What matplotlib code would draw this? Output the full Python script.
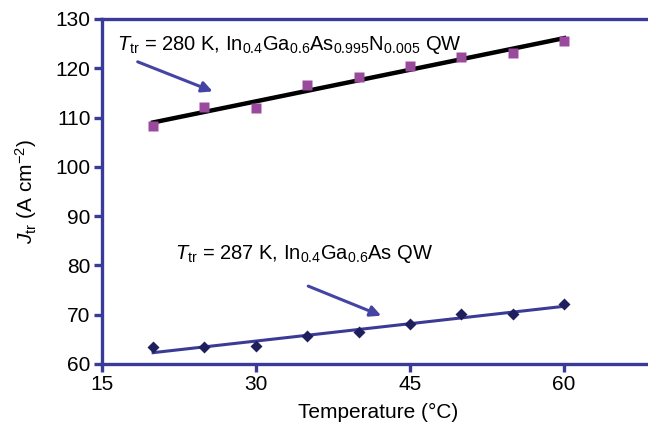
import matplotlib
matplotlib.use('Agg')
import matplotlib.pyplot as plt

plt.rcParams['font.family'] = ['Liberation Sans', 'DejaVu Sans']
plt.rcParams['mathtext.fontset'] = 'custom'
plt.rcParams['mathtext.rm'] = 'Liberation Sans'
plt.rcParams['mathtext.it'] = 'Liberation Sans:italic'

temps = [20, 25, 30, 35, 40, 45, 50, 55, 60]
j_inganasn = [108.2, 112.1, 111.9, 116.6, 118.2, 120.5, 122.2, 123.0, 125.6]
j_ingaas = [63.4, 63.4, 63.7, 65.6, 66.4, 68.1, 70.2, 70.2, 72.2]
fit_t = [20, 60]
fit_inganasn = [109.0, 126.1]
fit_ingaas = [62.3, 71.7]

navy = '#3b3b96'
axcol = '#3a3a98'

fig = plt.figure(figsize=(6.48, 4.30), dpi=100)
ax = fig.add_axes([0.157, 0.1535, 0.843 + 0.01, 0.8025])

ax.plot(fit_t, fit_inganasn, color='black', lw=3.2, zorder=2)
ax.plot(temps, j_inganasn, 's', color='#9a4a9c', ms=7.2, mec='none', zorder=3)
ax.plot(fit_t, fit_ingaas, color=navy, lw=2.2, zorder=2)
ax.plot(temps, j_ingaas, 'D', color='#1f1f5e', ms=6.3, mec='none', zorder=3)

ax.text(16.5, 124.8, r'$T_{\rm tr}$ = 280 K, In$_{0.4}$Ga$_{0.6}$As$_{0.995}$N$_{0.005}$ QW',
        fontsize=14.5, va='center', ha='left')
ax.text(22.1, 82.3, r'$T_{\rm tr}$ = 287 K, In$_{0.4}$Ga$_{0.6}$As QW',
        fontsize=14.5, va='center', ha='left')

arrow = dict(arrowstyle='-|>', color='#4444a4', lw=2.2, mutation_scale=16,
             shrinkA=0, shrinkB=0)
ax.annotate('', xy=(25.8, 115.3), xytext=(18.5, 121.3), arrowprops=arrow)
ax.annotate('', xy=(42.2, 69.8), xytext=(35.1, 75.8), arrowprops=arrow)

ax.set_xlim(15, 68.8)
ax.set_ylim(60, 130)
ax.set_xticks([15, 30, 45, 60])
ax.set_yticks(range(60, 131, 10))
ax.set_xlabel('Temperature (°C)', fontsize=15, labelpad=6)
ax.set_ylabel(r'$J_{\rm tr}$ (A cm$^{-2}$)', fontsize=15, labelpad=12)

for side in ['left', 'bottom', 'top']:
    ax.spines[side].set_color(axcol)
    ax.spines[side].set_linewidth(2.4)
ax.spines['right'].set_visible(False)
ax.tick_params(direction='out', length=6, width=2.4, color=axcol,
               labelsize=15, pad=2)

fig.savefig('out.png', dpi=100)
